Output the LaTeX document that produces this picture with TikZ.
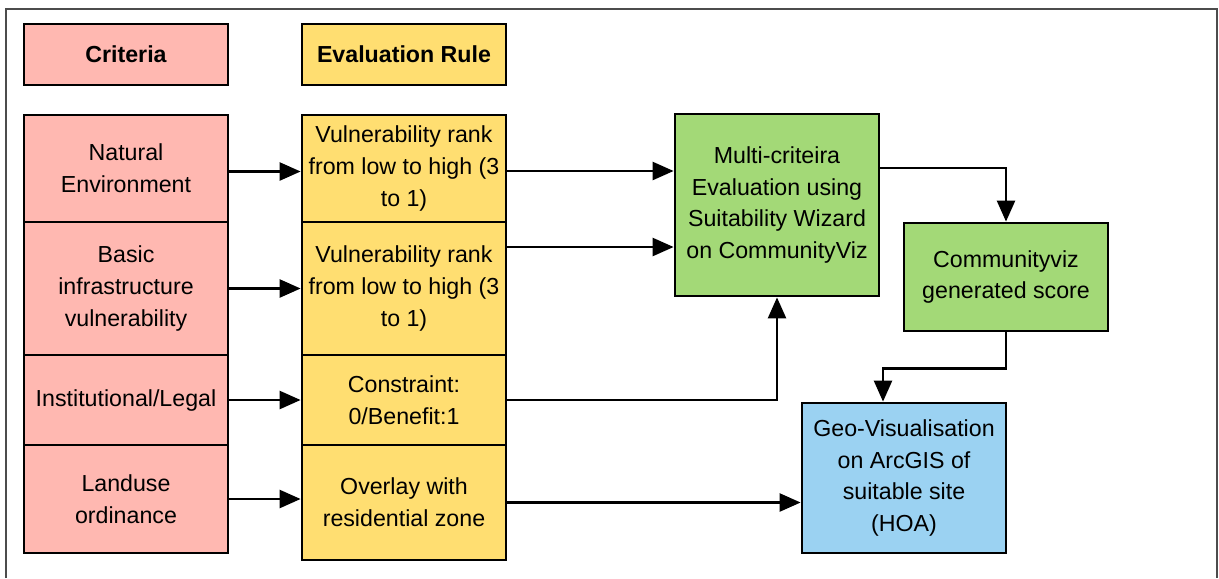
\documentclass[tikz,border=0pt]{standalone}
\usepackage{fontspec}
\setmainfont{Liberation Sans}
\usetikzlibrary{arrows.meta}

\definecolor{critpink}{HTML}{FFB8B1}
\definecolor{ruleyellow}{HTML}{FFDE71}
\definecolor{mcegreen}{HTML}{A3D977}
\definecolor{geoblue}{HTML}{9BD2F2}

\begin{document}
\begin{tikzpicture}[
    x=0.02cm, y=-0.02cm,
    box/.style={rectangle, draw, line width=1.6pt, minimum width=4.08cm, inner sep=2pt,
        align=center, font=\fontsize{13.2}{18.2}\selectfont},
    crit/.style={box, fill=critpink},
    rule/.style={box, fill=ruleyellow},
    mce/.style={box, fill=mcegreen},
    geo/.style={box, fill=geoblue},
    flow/.style={line width=1.4pt, -{Triangle[length=0.42cm, width=0.36cm]}}
]
    \useasboundingbox (0,0) rectangle (1219,578);
    \draw[gray!60!black, line width=0.6pt] (6,578) -- (6,9) -- (1217,9) -- (1217,578);

    % Headers
    \node[crit, minimum height=1.22cm, font=\fontsize{13.2}{18.2}\selectfont\bfseries] (hcrit) at (126,54.5) {Criteria};
    \node[rule, minimum height=1.22cm, font=\fontsize{13.2}{18.2}\selectfont\bfseries] (hrule) at (404,54.5) {Evaluation Rule};

    % Criteria
    \node[crit, minimum height=2.14cm] (nat) at (126,168.5) {Natural\\Environment};
    \node[crit, minimum height=2.66cm] (basic) at (126,288.5) {Basic\\infrastructure\\vulnerability};
    \node[crit, minimum height=1.80cm] (inst) at (126,400) {Institutional/Legal};
    \node[crit, minimum height=2.16cm] (land) at (126,499) {Landuse\\ordinance};

    % Evaluation rules
    \node[rule, minimum height=2.14cm] (vuln1) at (404,168.5) {Vulnerability rank\\from low to high (3\\to 1)};
    \node[rule, minimum height=2.66cm] (vuln2) at (404,288.5) {Vulnerability rank\\from low to high (3\\to 1)};
    \node[rule, minimum height=1.80cm] (cons) at (404,400) {Constraint:\\0/Benefit:1};
    \node[rule, minimum height=2.30cm] (over) at (404,502.5) {Overlay with\\residential zone};

    % Processing
    \node[mce, minimum height=3.64cm] (multi) at (777,205) {Multi-criteira\\Evaluation using\\Suitability Wizard\\on CommunityViz};
    \node[mce, minimum height=2.16cm] (score) at (1006,277) {Communityviz\\generated score};
    \node[geo, minimum height=3.00cm] (geovis) at (904,478) {Geo-Visualisation\\on ArcGIS of\\suitable site\\(HOA)};

    \coordinate (n1) at ([yshift=-0.06cm]nat.east);
    \coordinate (r1) at ([yshift=-0.05cm]vuln1.east);
    \coordinate (m1) at ([yshift=0.83cm]vuln2.east);
    \coordinate (m2) at ([yshift=0.74cm]multi.east);
    \coordinate (g1) at ([xshift=-0.42cm]geovis.north);

    \draw[flow] (n1) -- (n1 -| vuln1.west);
    \draw[flow] (basic) -- (vuln2);
    \draw[flow] (inst) -- (cons);
    \draw[flow] (land.east) -- (land.east -| over.west);

    \draw[flow] (r1) -- (r1 -| multi.west);
    \draw[flow] (m1) -- (m1 -| multi.west);
    \draw[flow] (cons.east) -| (multi.south);
    \draw[flow] (m2) -| (score.north);
    \draw[flow] (score.south) -- ++(0,36) -| (g1);
    \draw[flow] (over.east) -- (over.east -| geovis.west);

\end{tikzpicture}
\end{document}
